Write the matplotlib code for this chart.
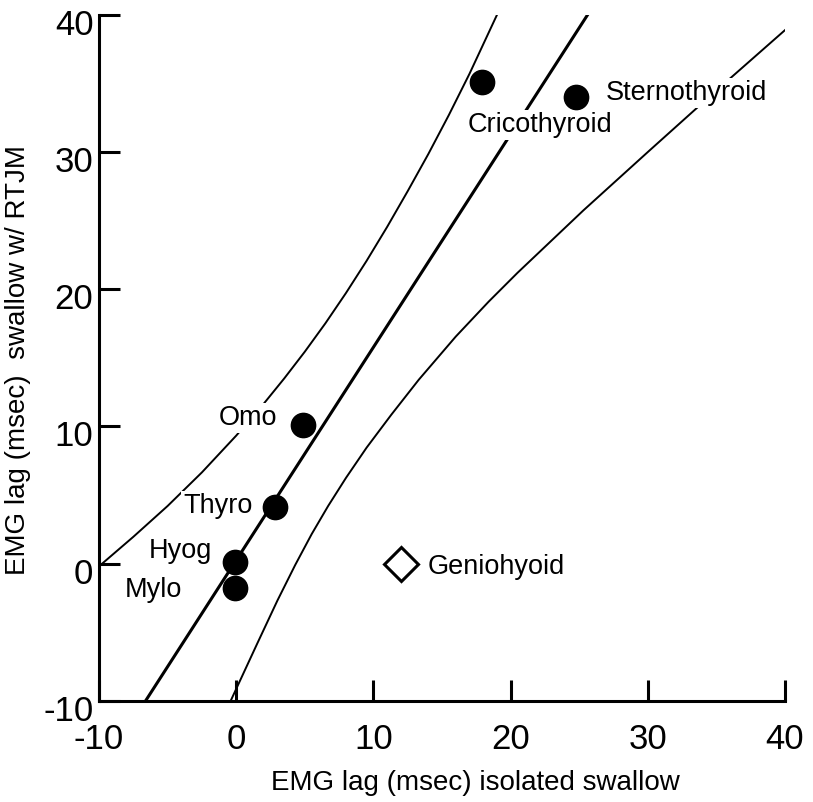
import numpy as np
import matplotlib
matplotlib.use("Agg")
import matplotlib.pyplot as plt
from matplotlib.transforms import ScaledTranslation

# muscles with both lags (msec)
muscle_names = ["Cricothyroid", "Sternothyroid", "Omo", "Thyro", "Hyog", "Mylo"]
iso_lag = [17.9, 24.8, 4.9, 2.8, -0.1, -0.1]
rtjm_lag = [35.1, 34.0, 10.1, 4.1, 0.1, -1.8]

# outlier, open diamond
genio_name = "Geniohyoid"
genio_iso = [12.0]
genio_rtjm = [0.0]

# regression line (ends)
fit_x = [-6.6, 25.6]
fit_y = [-10.0, 40.0]

# upper and lower bands
upper_x = [-10, -7.5, -5, -2.5, 0, 2, 3.5, 5, 6.5, 8, 9.5, 11, 12.5, 14, 15.5, 17, 19]
upper_y = [-0.2, 1.95, 4.2, 6.65, 9.33, 11.65, 13.5, 15.45, 17.52, 19.73, 22.07,
           24.55, 27.16, 29.86, 32.71, 35.71, 40.0]
lower_x = [-0.4, 1.5, 3.0, 4.3, 5.5, 6.7, 8.0, 9.5, 11.3, 13.3, 16.0, 18.4, 20.5,
           25.3, 30.1, 35.0, 40.0]
lower_y = [-10.0, -5.9, -2.7, -0.1, 2.15, 4.2, 6.25, 8.45, 10.85, 13.4, 16.55, 19.1,
           21.2, 25.75, 30.1, 34.5, 38.9]

ticks = [-10, 0, 10, 20, 30, 40]

# label placement, offset in points from the marker
label_offsets = {
    "Cricothyroid": (-10.3, -36.0, "left"),
    "Sternothyroid": (21.2, -1.9, "left"),
    "Omo": (-18.7, 0.0, "right"),
    "Thyro": (-15.6, -4.3, "right"),
    "Hyog": (-16.3, 2.9, "right"),
    "Mylo": (-37.9, -6.3, "right"),
}

plt.rcParams["font.family"] = ["Liberation Sans", "DejaVu Sans"]
plt.rcParams["axes.unicode_minus"] = False

fig = plt.figure(figsize=(8.13, 8.02), dpi=100)
ax = fig.add_axes([0.1218, 0.1263, 0.8438, 0.855])

ax.plot(upper_x, upper_y, color="black", lw=1.4, zorder=2, solid_joinstyle="round")
ax.plot(lower_x, lower_y, color="black", lw=1.4, zorder=2, solid_joinstyle="round")
ax.plot(fit_x, fit_y, color="black", lw=2.2, zorder=2)

ax.plot(iso_lag, rtjm_lag, "o", color="black", ms=17.5, zorder=4)
ax.plot(genio_iso, genio_rtjm, "D", mfc="white", mec="black", mew=2.2, ms=17, zorder=4)

box = dict(facecolor="white", edgecolor="none", pad=1.5)
for name, x, y in zip(muscle_names, iso_lag, rtjm_lag):
    dx, dy, ha = label_offsets[name]
    ax.annotate(name, (x, y), xytext=(dx, dy), textcoords="offset points",
                ha=ha, va="baseline", fontsize=19.5, bbox=box, zorder=3)
ax.annotate(genio_name, (genio_iso[0], genio_rtjm[0]), xytext=(19.2, -7.2),
            textcoords="offset points", ha="left", va="baseline",
            fontsize=19.5, bbox=box, zorder=3)

ax.set_xlim(-10, 40)
ax.set_ylim(-10, 40)
ax.set_xticks(ticks)
ax.set_yticks(ticks)
for side in ["top", "right"]:
    ax.spines[side].set_visible(False)
for side in ["left", "bottom"]:
    ax.spines[side].set_linewidth(2.2)
ax.tick_params(direction="in", length=15, width=2.2, labelsize=25)
ax.tick_params(axis="x", pad=16)
ax.tick_params(axis="y", pad=4)
shift = ScaledTranslation(0, -0.07, fig.dpi_scale_trans)
for lab in ax.get_yticklabels():
    lab.set_transform(lab.get_transform() + shift)

ax.set_xlabel("EMG lag (msec) isolated swallow", fontsize=20)
ax.set_ylabel("EMG lag (msec)  swallow w/ RTJM", fontsize=20)
ax.xaxis.set_label_coords(0.548, -0.12)
ax.xaxis.label.set_va("center")
ax.yaxis.set_label_coords(-0.118, 0.497)
ax.yaxis.label.set_va("center")

fig.savefig("out.png", dpi=100)
